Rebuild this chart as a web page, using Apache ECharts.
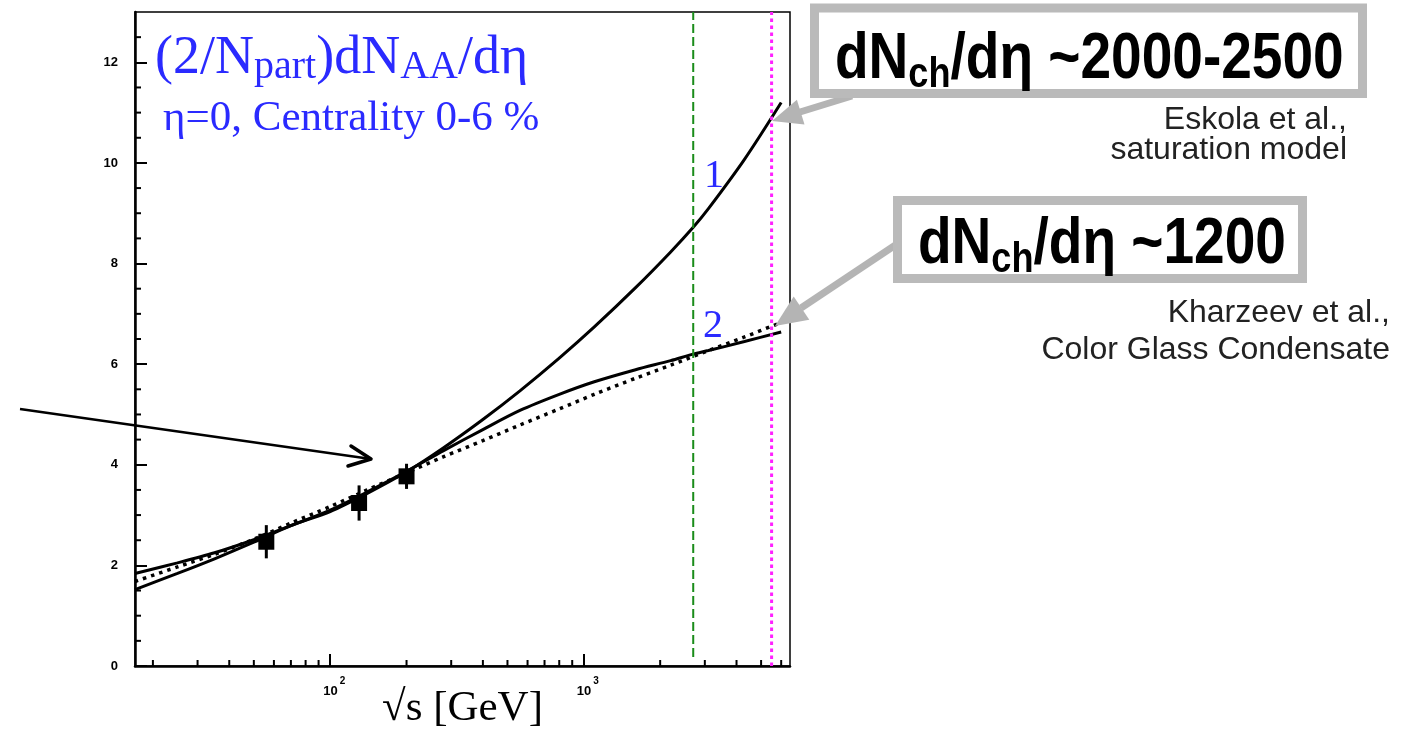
<!DOCTYPE html>
<html><head><meta charset="utf-8">
<script src="https://cdn.jsdelivr.net/npm/echarts@6/dist/echarts.min.js"></script>
<style>html,body{margin:0;padding:0;background:#fff}#c{width:1412px;height:729px}</style>
</head><body><div id="c"></div>
<script>
// ---- data ----
const energies = [17,25,35,50,70,100,140,200,280,400,560,800,1100,1600,2200,2700,3100,4300,6000];
const eskola   = [1.52,1.84,2.13,2.46,2.79,3.07,3.43,3.86,4.34,4.90,5.47,6.12,6.74,7.52,8.23,8.72,9.09,10.07,11.2];
const kharzeev = [1.84,2.05,2.25,2.51,2.79,3.10,3.46,3.87,4.28,4.70,5.08,5.40,5.65,5.89,6.07,6.20,6.27,6.45,6.64];
const fitE     = [17,25,35,50,70,100,140,200,280,400,560,800,1100,1600,2200,3100,4300,6000];
const fitY     = [1.68,1.97,2.22,2.52,2.84,3.17,3.50,3.84,4.16,4.48,4.79,5.11,5.40,5.72,5.98,6.27,6.54,6.83];
const dataX    = [56,130,200];
const dataY    = [2.47,3.24,3.77];
const dataErr  = [0.33,0.35,0.25];
const lhcLow = 2700, lhcHigh = 5500;
const xMin = 17, xMax = 6500, yMin = 0, yMax = 13;
const xMinorTicks = [20,30,40,50,60,70,80,90,200,300,400,500,600,700,800,900,2000,3000,4000,5000,6000];
const yMinorTicks = [0.5,1,1.5,2.5,3,3.5,4.5,5,5.5,6.5,7,7.5,8.5,9,9.5,10.5,11,11.5,12.5];
const supLabels = {100:'2', 1000:'3'};

const chart = echarts.init(document.getElementById('c'));
const pair = (xs, ys) => xs.map((x,i)=>[x, ys[i]]);
const BLUE = '#2a2aff';

function minorTick(dir, len){
  return function(params, api){
    const p = api.coord([api.value(0), api.value(1)]);
    const shape = dir==='x' ? {x1:p[0],y1:p[1],x2:p[0],y2:p[1]-len} : {x1:p[0],y1:p[1],x2:p[0]+len,y2:p[1]};
    return {type:'line', shape, style:{stroke:'#000', lineWidth:2}};
  };
}
function boxText(x, y, rest){
  return {type:'group', x, y, scaleX:0.86, z:13, children:[{type:'text', x:0, y:0, z:13, style:{
    text:'{b|dN}{s|ch}{b|/dη '+rest+'}', verticalAlign:'top',
    rich:{b:{fontFamily:'Liberation Sans', fontWeight:'bold', fontSize:64, fill:'#000', lineHeight:72},
          s:{fontFamily:'Liberation Sans', fontWeight:'bold', fontSize:42, fill:'#000', lineHeight:30, verticalAlign:'bottom'}}}}]};
}

const option = {
  backgroundColor:'#fff',
  animation:false,
  grid:{left:135, right:622, top:12, bottom:63, containLabel:false, outerBoundsMode:'none',
        show:true, borderColor:'#000', borderWidth:1.5, backgroundColor:'transparent'},
  xAxis:{type:'log', logBase:10, min:xMin, max:xMax,
    axisLine:{lineStyle:{color:'#000', width:2.5}},
    axisTick:{inside:true, length:12, lineStyle:{color:'#000', width:2}},
    splitLine:{show:false}, minorTick:{show:false},
    axisLabel:{margin:10, showMinLabel:false, showMaxLabel:false,
      formatter:(v)=> supLabels[Math.round(v)] ? '{b|10}{s|'+supLabels[Math.round(v)]+'}' : '',
      rich:{b:{fontFamily:'Liberation Sans', fontWeight:'bold', fontSize:13, color:'#000', lineHeight:22, verticalAlign:'bottom', padding:[0,0,0,8]},
            s:{fontFamily:'Liberation Sans', fontWeight:'bold', fontSize:10, color:'#000', lineHeight:8, verticalAlign:'top', padding:[0,0,0,2]}}},
    name:'√s [GeV]', nameLocation:'middle', nameGap:21, nameMoveOverlap:false,
    nameTextStyle:{fontFamily:'Liberation Serif', fontSize:43, color:'#000', verticalAlign:'top'}
  },
  yAxis:{type:'value', min:yMin, max:yMax, interval:2,
    axisLine:{lineStyle:{color:'#000', width:2.5}},
    axisTick:{inside:true, length:12, lineStyle:{color:'#000', width:2}},
    splitLine:{show:false},
    axisLabel:{margin:17, showMaxLabel:false, fontFamily:'Liberation Sans', fontWeight:'bold', fontSize:13, color:'#000'}
  },
  series:[
    {type:'custom', name:'xminor', data:xMinorTicks.map(v=>[v,yMin]), renderItem:minorTick('x',6), z:5, silent:true},
    {type:'custom', name:'yminor', data:yMinorTicks.map(v=>[xMin,v]), renderItem:minorTick('y',6), z:5, silent:true},
    {type:'line', name:'fit', data:pair(fitE, fitY), smooth:0.3, showSymbol:false,
      lineStyle:{color:'#000', width:3.5, type:[3.5,5]}, z:3},
    {type:'line', name:'Kharzeev', data:pair(energies, kharzeev), smooth:0.3, showSymbol:false,
      lineStyle:{color:'#000', width:3}, z:3},
    {type:'line', name:'Eskola', data:pair(energies, eskola), smooth:0.3, showSymbol:false,
      lineStyle:{color:'#000', width:3}, z:3},
    {type:'custom', name:'err', data:dataX.map((x,i)=>[x, dataY[i]-dataErr[i], dataY[i]+dataErr[i]]),
      encode:{x:0, y:[1,2]}, z:6,
      renderItem:(params, api)=>{
        const x = api.value(0);
        const lo = api.coord([x, api.value(1)]);
        const hi = api.coord([x, api.value(2)]);
        return {type:'line', shape:{x1:lo[0],y1:lo[1],x2:hi[0],y2:hi[1]}, style:{stroke:'#000', lineWidth:3}};
      }},
    {type:'scatter', name:'data', data:pair(dataX, dataY), symbol:'rect', symbolSize:16,
      itemStyle:{color:'#000', opacity:1}, z:7},
    {type:'line', name:'lhc1', data:[[lhcLow,0.18],[lhcLow,yMax]], showSymbol:false,
      lineStyle:{color:'#1a8c1a', width:2, type:[9,4]}, z:8},
    {type:'line', name:'lhc2', data:[[lhcHigh,yMin],[lhcHigh,yMax]], showSymbol:false,
      lineStyle:{color:'#ff22ff', width:3, type:[3.5,3.5]}, z:8}
  ],
  graphic:[
    // title
    {type:'text', x:155, y:31, z:10, style:{
      text:'{m|(2/N}{s|part}{m|)dN}{s|AA}{m|/dη}', verticalAlign:'top',
      rich:{m:{fontFamily:'Liberation Serif', fontSize:54, fill:BLUE, lineHeight:56},
            s:{fontFamily:'Liberation Serif', fontSize:40, fill:BLUE, lineHeight:36, verticalAlign:'bottom'}}}},
    {type:'text', x:163, y:97, z:10, style:{text:'η=0, Centrality 0-6 %', fontFamily:'Liberation Serif', fontSize:43, fill:BLUE, verticalAlign:'top'}},
    {type:'text', x:714, y:176, z:10, style:{text:'1', fontFamily:'Liberation Serif', fontSize:40, fill:BLUE, align:'center', verticalAlign:'middle'}},
    {type:'text', x:713, y:326, z:10, style:{text:'2', fontFamily:'Liberation Serif', fontSize:40, fill:BLUE, align:'center', verticalAlign:'middle'}},
    // black arrow
    {type:'line', z:10, shape:{x1:20,y1:409,x2:371,y2:459}, style:{stroke:'#000', lineWidth:2.5}},
    {type:'polyline', z:10, shape:{points:[[351,446],[371,459],[348,466]]}, style:{stroke:'#000', lineWidth:3.5, fill:null, lineCap:'round', lineJoin:'round'}},
    // gray arrows
    {type:'line', z:11, shape:{x1:852,y1:96,x2:800,y2:112}, style:{stroke:'#b4b4b4', lineWidth:7}},
    {type:'polygon', z:11, shape:{points:[[772,121],[804.5,124.6],[796.9,99.8]]}, style:{fill:'#b4b4b4'}},
    {type:'line', z:11, shape:{x1:897,y1:244,x2:801,y2:308}, style:{stroke:'#b4b4b4', lineWidth:7}},
    {type:'polygon', z:11, shape:{points:[[775,326],[809.3,319.7],[793.7,296.5]]}, style:{fill:'#b4b4b4'}},
    // boxes
    {type:'rect', z:12, shape:{x:814.5, y:8, width:548, height:85.5}, style:{fill:'#fff', stroke:'#bababa', lineWidth:9}},
    {type:'rect', z:12, shape:{x:897.5, y:200.5, width:405, height:78}, style:{fill:'#fff', stroke:'#bababa', lineWidth:9}},
    boxText(835, 24, '~2000-2500'),
    boxText(918, 209, '~1200'),
    {type:'text', z:13, x:1347, y:120, style:{text:'Eskola et al.,', fontFamily:'Liberation Sans', fontSize:32, fill:'#222', align:'right', verticalAlign:'middle'}},
    {type:'text', z:13, x:1347, y:150, style:{text:'saturation model', fontFamily:'Liberation Sans', fontSize:32, fill:'#222', align:'right', verticalAlign:'middle'}},
    {type:'text', z:13, x:1390, y:313, style:{text:'Kharzeev et al.,', fontFamily:'Liberation Sans', fontSize:32, fill:'#222', align:'right', verticalAlign:'middle'}},
    {type:'text', z:13, x:1390, y:350, style:{text:'Color Glass Condensate', fontFamily:'Liberation Sans', fontSize:32, fill:'#222', align:'right', verticalAlign:'middle'}}
  ]
};
chart.setOption(option);
</script></body></html>
